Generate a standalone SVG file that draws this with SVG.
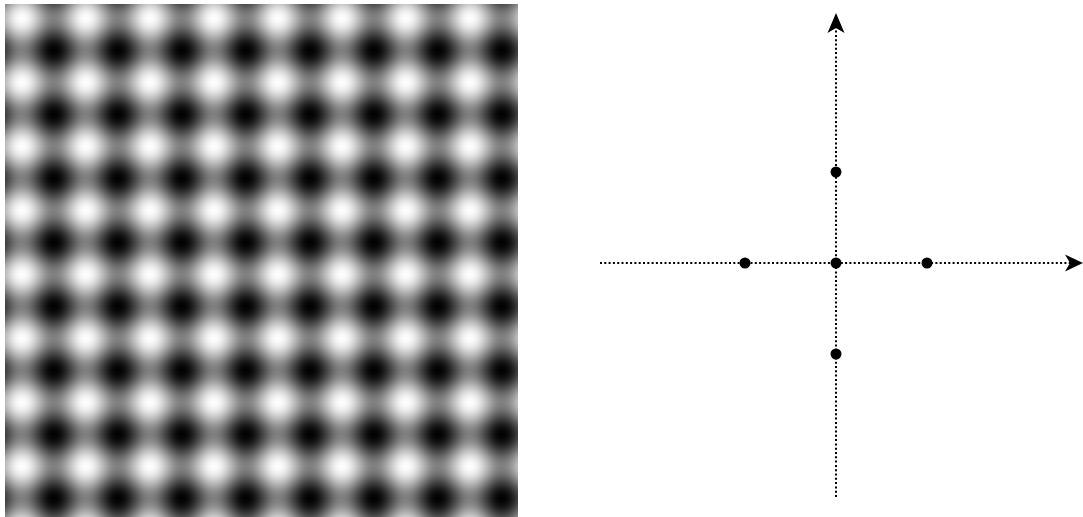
<svg xmlns="http://www.w3.org/2000/svg" width="1083" height="517" viewBox="0 0 1083 517">
  <style>
    .axis { fill: none; stroke: #000; stroke-width: 2; stroke-dasharray: 2 2.3; }
    .dot { fill: #000; }
    .head { fill: #000; }
  </style>
  <defs>
    <linearGradient id="gx" gradientUnits="userSpaceOnUse" x1="22" y1="0" x2="86" y2="0" spreadMethod="repeat">
      <stop offset="0" stop-color="#ffffff"/>
      <stop offset="0.0625" stop-color="#f5f5f5"/>
      <stop offset="0.125" stop-color="#dadada"/>
      <stop offset="0.1875" stop-color="#b0b0b0"/>
      <stop offset="0.25" stop-color="#808080"/>
      <stop offset="0.3125" stop-color="#4f4f4f"/>
      <stop offset="0.375" stop-color="#252525"/>
      <stop offset="0.4375" stop-color="#0a0a0a"/>
      <stop offset="0.5" stop-color="#000000"/>
      <stop offset="0.5625" stop-color="#0a0a0a"/>
      <stop offset="0.625" stop-color="#252525"/>
      <stop offset="0.6875" stop-color="#4f4f4f"/>
      <stop offset="0.75" stop-color="#808080"/>
      <stop offset="0.8125" stop-color="#b0b0b0"/>
      <stop offset="0.875" stop-color="#dadada"/>
      <stop offset="0.9375" stop-color="#f5f5f5"/>
      <stop offset="1" stop-color="#ffffff"/>
    </linearGradient>
    <linearGradient id="gy" href="#gx" xlink:href="#gx" xmlns:xlink="http://www.w3.org/1999/xlink" x1="0" y1="18.5" x2="0" y2="82.5"/>
  </defs>

  <g id="pattern">
    <rect x="5" y="4" width="513" height="513" fill="url(#gx)"/>
    <rect x="5" y="4" width="513" height="513" fill="url(#gy)" opacity="0.5"/>
  </g>

  <g id="connectors">
    <line class="axis" x1="600" y1="263" x2="1070" y2="263"/>
    <polygon class="head" points="1083,263 1065,254.5 1070,263 1065,271.5"/>
    <line class="axis" x1="836" y1="497" x2="836" y2="28"/>
    <polygon class="head" points="836,13 827.5,33 836,28 844.5,33"/>
  </g>

  <g id="node-origin"><circle class="dot" cx="836" cy="263" r="5.5"/></g>
  <g id="node-left"><circle class="dot" cx="745" cy="263" r="5.5"/></g>
  <g id="node-right"><circle class="dot" cx="927" cy="263" r="5.5"/></g>
  <g id="node-top"><circle class="dot" cx="836" cy="172" r="5.5"/></g>
  <g id="node-bottom"><circle class="dot" cx="836" cy="354" r="5.5"/></g>
</svg>
